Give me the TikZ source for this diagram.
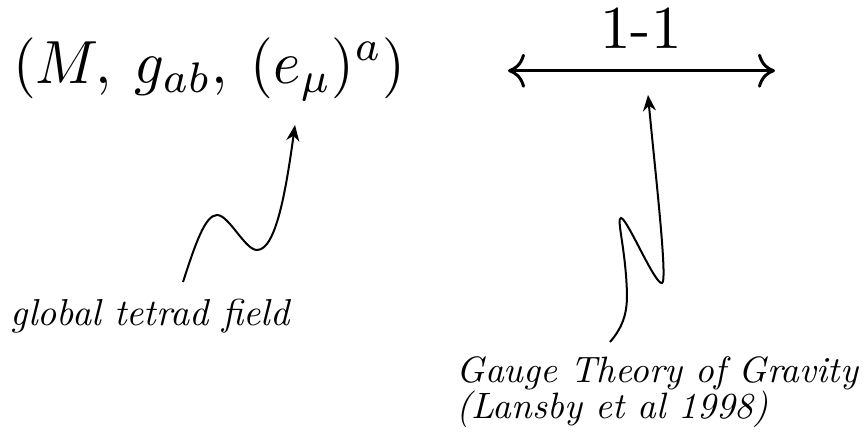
\documentclass[tikz,border=0pt]{standalone}
\usetikzlibrary{arrows.meta}
\begin{document}
\begin{tikzpicture}[x=1pt,y=-1pt,
  bigtext/.style={inner sep=0pt,xscale=5.85,yscale=6.1},
  labeltext/.style={inner sep=0pt,font=\itshape\fontsize{10}{9.8}\selectfont,align=left},
  wavy/.style={line width=2pt,-{Stealth[length=16pt,width=13pt]}},
  dbl/.style={line width=3pt,{Computer Modern Rightarrow[length=17pt,width=34pt]}-{Computer Modern Rightarrow[length=17pt,width=34pt]}}]
\useasboundingbox (0,0) rectangle (865,442);
\node[bigtext,anchor=base west] (triple) at (12,83) {$(M,\: g_{ab},\: (e_\mu)^a)$};
\coordinate (L) at (508,70.7);
\coordinate (R) at (775,70.7);
\draw[dbl] (L) -- (R);
\node[scale=6.1,inner sep=0pt,anchor=base] (oneone) at (641,48) {1-1};
\node[labeltext,scale=3.75,anchor=base west] (tetrad) at (10,325) {global tetrad field};
\node[labeltext,scale=3.67,anchor=base west] (gauge) at (456,418) {Gauge Theory of Gravity\\(Lansby et al 1998)};
\coordinate (s1) at (183,282);
\coordinate (t1) at (295,125);
\draw[wavy] (s1) .. controls (195,245) and (205,215) .. (217,215)
  .. controls (229,215) and (245,250) .. (257,250)
  .. controls (276,250) and (286,190) .. (t1);
\coordinate (s2) at (610,342);
\coordinate (t2) at (648,95);
\draw[wavy] (s2) .. controls (622,328) and (627,315) .. (627,295)
  .. controls (626,250) and (616,218) .. (621,218)
  .. controls (627,218) and (655,285) .. (662,283)
  .. controls (668,282) and (655,170) .. (t2);
\end{tikzpicture}
\end{document}
